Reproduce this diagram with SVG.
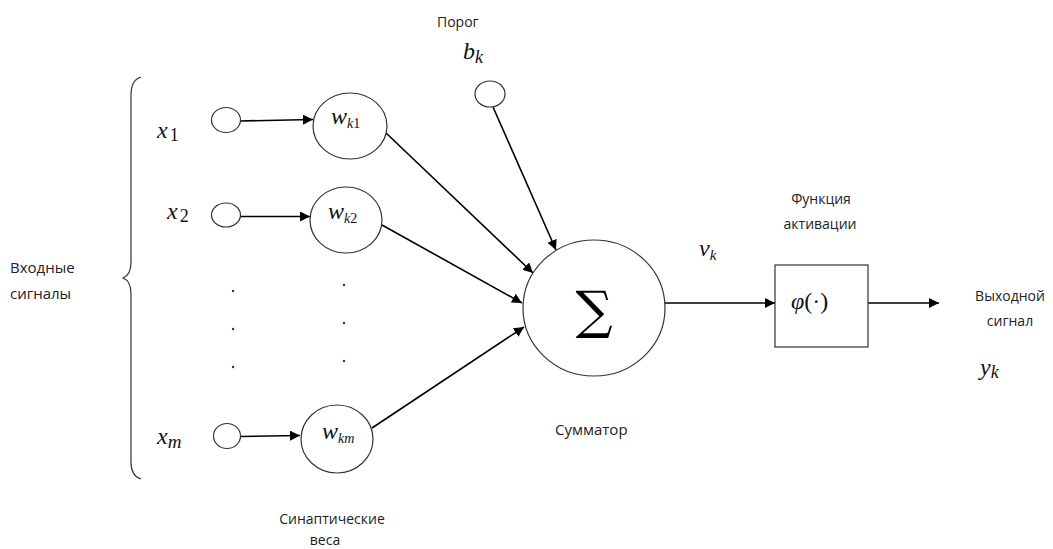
<svg xmlns="http://www.w3.org/2000/svg" width="1053" height="549" viewBox="0 0 1053 549">
<style>
.n{fill:#fff;stroke:#333;stroke-width:1.2}
.c{stroke:#000;stroke-width:1.6;fill:none}
.t{font-family:"Open Sans","Liberation Sans",sans-serif;font-size:14px;fill:#222}
.m{font-family:"Liberation Serif","DejaVu Serif",serif;font-style:italic;font-size:24px;fill:#111}
.s{font-size:15px}
.d{fill:#333}
</style>
<defs>
<marker id="a" viewBox="0 0 10 10" refX="10" refY="5" markerWidth="10" markerHeight="10" markerUnits="userSpaceOnUse" orient="auto">
<path d="M0,0 L10,5 L0,10 Z" fill="#000"/>
</marker>
</defs>
<rect width="1053" height="549" fill="#fff"/>
<g id="connectors">
<line class="c" x1="240" y1="121" x2="313" y2="119.5" marker-end="url(#a)"/>
<line class="c" x1="240" y1="216.5" x2="310" y2="216.5" marker-end="url(#a)"/>
<line class="c" x1="240" y1="436.5" x2="300" y2="435.5" marker-end="url(#a)"/>
<line class="c" x1="493" y1="107" x2="556" y2="250" marker-end="url(#a)"/>
<line class="c" x1="385" y1="132" x2="533" y2="273" marker-end="url(#a)"/>
<line class="c" x1="382" y1="225" x2="522" y2="303" marker-end="url(#a)"/>
<line class="c" x1="372" y1="428" x2="524" y2="327" marker-end="url(#a)"/>
<line class="c" x1="665" y1="303" x2="775" y2="303" marker-end="url(#a)"/>
<line class="c" x1="868" y1="303" x2="939" y2="303" marker-end="url(#a)"/>
</g>
<g id="brace">
<path d="M141,77 Q131,80 131,95 L131,262 Q131,275 123,278 Q131,281 131,294 L131,462 Q131,476 141,479" fill="none" stroke="#333" stroke-width="1.2"/>
<text class="t s" x="10" y="273">Входные</text>
<text class="t s" x="10" y="299">сигналы</text>
</g>
<g id="x1"><ellipse class="n" cx="226" cy="120" rx="14.5" ry="12.5"/><text class="m" x="157" y="138">x<tspan font-size="18" font-style="normal" dy="3" dx="2">1</tspan></text></g>
<g id="x2"><ellipse class="n" cx="226" cy="215" rx="14.5" ry="12"/><text class="m" x="167" y="219">x<tspan font-size="18" font-style="normal" dy="3" dx="2">2</tspan></text></g>
<g id="xm"><ellipse class="n" cx="227" cy="436" rx="13.5" ry="12.5"/><text class="m" x="157" y="444">x<tspan font-size="19" dy="4">m</tspan></text></g>
<g id="wk1"><ellipse class="n" cx="350" cy="126" rx="37" ry="33"/><text class="m" x="331" y="124" font-size="19">w<tspan font-size="14" dy="4">k</tspan><tspan font-size="14" font-style="normal">1</tspan></text></g>
<g id="wk2"><ellipse class="n" cx="346" cy="220" rx="36" ry="33"/><text class="m" x="328" y="219" font-size="19">w<tspan font-size="14" dy="4">k</tspan><tspan font-size="14" font-style="normal">2</tspan></text></g>
<g id="wkm"><ellipse class="n" cx="337" cy="439" rx="36" ry="34"/><text class="m" x="322" y="439" font-size="19">w<tspan font-size="14" dy="4">km</tspan></text></g>
<g id="dots">
<circle class="d" cx="233" cy="291" r="1.2"/><circle class="d" cx="233" cy="329" r="1.2"/><circle class="d" cx="233" cy="367" r="1.2"/>
<circle class="d" cx="344" cy="285" r="1.2"/><circle class="d" cx="344" cy="323" r="1.2"/><circle class="d" cx="344" cy="361" r="1.2"/>
</g>
<g id="bias"><ellipse class="n" cx="490" cy="94" rx="15" ry="13"/><text class="t" x="437" y="27">Порог</text><text class="m" x="463" y="59">b<tspan font-size="18" dy="4">k</tspan></text></g>
<g id="sum"><ellipse class="n" cx="594" cy="308" rx="71" ry="68"/><text x="594" y="328" text-anchor="middle" font-family="'DejaVu Serif','Liberation Serif',serif" font-size="52" fill="#000">∑</text><text class="t s" x="555" y="435">Сумматор</text></g>
<text class="m" x="699" y="256" font-size="20">v<tspan font-size="15" dy="4">k</tspan></text>
<g id="phi"><rect class="n" x="775" y="265" width="93" height="82"/><text class="m" x="791" y="309" font-size="22">φ<tspan font-style="normal">(·)</tspan></text><text class="t" x="821" y="204" text-anchor="middle">Функция</text><text class="t" x="820" y="229" text-anchor="middle">активации</text></g>
<g id="out"><text class="t" x="1010" y="301" text-anchor="middle" font-size="15">Выходной</text><text class="t" x="1010" y="326" text-anchor="middle" font-size="15">сигнал</text><text class="m" x="980" y="375">y<tspan font-size="18" dy="3">k</tspan></text></g>
<g id="syn"><text class="t" x="332" y="524" text-anchor="middle">Синаптические</text><text class="t" x="325" y="545" text-anchor="middle">веса</text></g>
</svg>
